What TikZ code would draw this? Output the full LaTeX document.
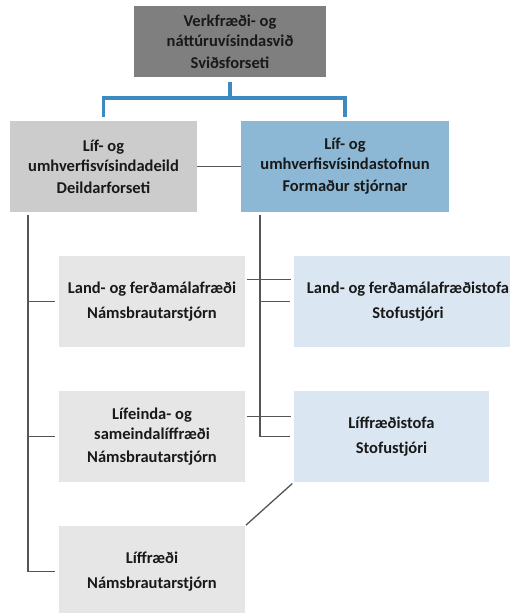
\documentclass[tikz,border=0pt]{standalone}
\usepackage{fontspec}
\setmainfont{Carlito}
\usepackage{xcolor}
\definecolor{topgray}{HTML}{7F7F7F}
\definecolor{deildgray}{HTML}{CCCCCC}
\definecolor{unitgray}{HTML}{E6E6E6}
\definecolor{stofnblue}{HTML}{8CB8D6}
\definecolor{stofablue}{HTML}{DAE7F2}
\definecolor{linkblue}{HTML}{3D89C2}
\definecolor{linkgray}{HTML}{555555}

\begin{document}
\begin{tikzpicture}
		[x=1pt,y=-1pt,
			block/.style ={rectangle, fill=unitgray, align=center, minimum width=186pt, minimum height=91pt, inner sep=0pt, text=black!90, font=\fontsize{16.5}{20}\selectfont\bfseries},
 stofa/.style ={block, fill=stofablue},
 link/.style ={draw=linkgray, line width=1.3pt},
 bluelink/.style ={draw=linkblue, line width=3.2pt}]
		\useasboundingbox (0,0) rectangle (510,613);
		\clip (0,0) rectangle (510,613);
		% top level
		\node[block, fill=topgray, minimum width=192pt, minimum height=71pt] (svid) at (230,41.5)
			{Verkfræði- og\\ náttúruvísindasvið\\[2pt] Sviðsforseti};
		\node[block, fill=deildgray, minimum width=187pt] (deild) at (103.5,166.5)
			{Líf- og\\ umhverfisvísindadeild\\[2pt] Deildarforseti};
		\node[block, fill=stofnblue, minimum width=208pt] (stofnun) at (345,166.5)
			{Líf- og\\ umhverfisvísindastofnun\\[2pt] Formaður stjórnar};
		% namsbrautir
		\node[block] (landfr) at (152,301.5) {Land- og ferðamálafræði\\[5pt] Námsbrautarstjórn};
		\node[block] (lifeinda) at (152,436.5) {Lífeinda- og\\ sameindalíffræði\\[3pt] Námsbrautarstjórn};
		\node[block] (liffr) at (152,571.5) {Líffræði\\[5pt] Námsbrautarstjórn};
		% stofur
		\node[stofa, minimum width=228pt] (landst) at (408,301.5) {Land- og ferðamálafræðistofa\\[5pt] Stofustjóri};
		\node[stofa, minimum width=195pt] (liffrst) at (391.5,436.5) {Líffræðistofa\\[5pt] Stofustjóri};

		\coordinate (split) at (230,98);
		\draw[bluelink] ([yshift=-5pt]svid.south) -- (split) -| ([yshift=4pt]deild.north);
		\draw[bluelink] (split) -| ([yshift=4pt]stofnun.north);
		\draw[link] (deild.east) -- (stofnun.west);

		\coordinate (ltrunk) at (28,215);
		\draw[link] (ltrunk) |- ([xshift=-4pt]landfr.west);
		\draw[link] (ltrunk) |- ([xshift=-4pt]lifeinda.west);
		\draw[link] (ltrunk) |- ([xshift=-4pt]liffr.west);

		\coordinate (rtrunk) at (260,215);
		\draw[link] (rtrunk) |- ([xshift=-4pt]landst.west);
		\draw[link] (rtrunk) |- ([xshift=-4pt]liffrst.west);

		\draw[link, shorten <=2pt, shorten >=3pt] ([yshift=22pt]landfr.east) -- ([yshift=22pt]landst.west);
		\draw[link, shorten <=2pt, shorten >=3pt] ([yshift=20pt]lifeinda.east) -- ([yshift=20pt]liffrst.west);
		\draw[link, shorten <=2pt, shorten >=1pt] (liffrst.south west) -- (liffr.north east);
	\end{tikzpicture}
\end{document}
